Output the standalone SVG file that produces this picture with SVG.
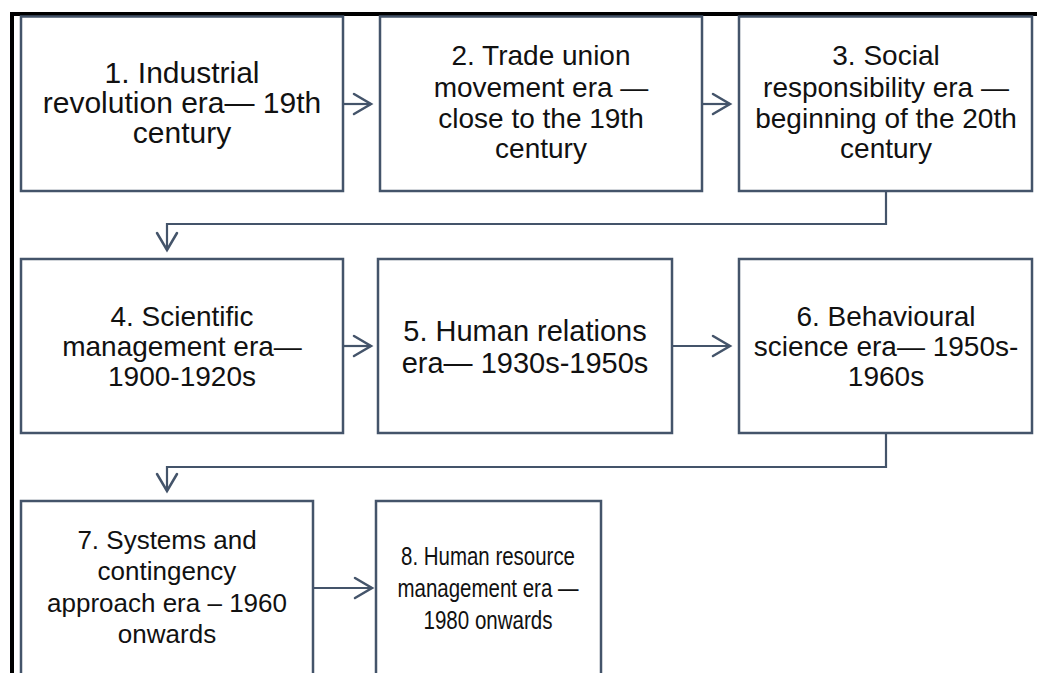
<svg xmlns="http://www.w3.org/2000/svg" width="1037" height="673" viewBox="0 0 1037 673">
<style>
.box{fill:#fff;stroke:#44546A;stroke-width:2.5}
.ln{fill:none;stroke:#44546A;stroke-width:2.2}
.hd{fill:none;stroke:#44546A;stroke-width:2.5;stroke-linecap:round;stroke-linejoin:miter}
text{font-family:"Liberation Sans",Arial,sans-serif;font-size:28px;fill:#111;text-anchor:middle}
#n1 text{font-size:30px}
#n5 text{font-size:29px}
#n7 text{font-size:26px}
#n8 text{font-size:26px}
</style>
<rect width="1037" height="673" fill="#fff"/>
<g id="frame">
<rect x="10" y="12" width="1027" height="4" fill="#000"/>
<rect x="10" y="12" width="4" height="661" fill="#000"/>
</g>
<g id="n1"><rect class="box" x="21" y="16.5" width="322" height="174.5"/>
<text x="182" y="83">1. Industrial</text><text x="182" y="113">revolution era— 19th</text><text x="182" y="143">century</text></g>
<g id="n2"><rect class="box" x="380" y="16.5" width="322" height="174.5"/>
<text x="541" y="65">2. Trade union</text><text x="541" y="97">movement era —</text><text x="541" y="128">close to the 19th</text><text x="541" y="158">century</text></g>
<g id="n3"><rect class="box" x="739" y="16.5" width="293" height="174.5"/>
<text x="886" y="65">3. Social</text><text x="886" y="97">responsibility era —</text><text x="886" y="128">beginning of the 20th</text><text x="886" y="158">century</text></g>
<g id="n4"><rect class="box" x="21" y="259" width="322" height="174"/>
<text x="182" y="326">4. Scientific</text><text x="182" y="356">management era—</text><text x="182" y="386">1900-1920s</text></g>
<g id="n5"><rect class="box" x="378" y="259" width="294" height="174"/>
<text x="525" y="341">5. Human relations</text><text x="525" y="373">era— 1930s-1950s</text></g>
<g id="n6"><rect class="box" x="739" y="259" width="293" height="174"/>
<text x="886" y="326">6. Behavioural</text><text x="886" y="356">science era— 1950s-</text><text x="886" y="386">1960s</text></g>
<g id="n7"><rect class="box" x="21" y="501" width="292" height="190"/>
<text x="167" y="549">7. Systems and</text><text x="167" y="580">contingency</text><text x="167" y="612">approach era – 1960</text><text x="167" y="643">onwards</text></g>
<g id="n8"><rect class="box" x="376" y="501" width="225" height="190"/>
<text x="488" y="565" textLength="174" lengthAdjust="spacingAndGlyphs">8. Human resource</text><text x="488" y="597" textLength="181" lengthAdjust="spacingAndGlyphs">management era —</text><text x="488" y="629" textLength="129" lengthAdjust="spacingAndGlyphs">1980 onwards</text></g>
<g id="connectors">
<path class="ln" d="M343 104H371"/><path class="hd" d="M354 94L371 104L354 114"/>
<path class="ln" d="M702 104H730"/><path class="hd" d="M713 94L730 104L713 114"/>
<path class="ln" d="M886 191V224H167V250"/><path class="hd" d="M157 233L167 250L177 233"/>
<path class="ln" d="M343 346H371"/><path class="hd" d="M354 336L371 346L354 356"/>
<path class="ln" d="M672 346H730"/><path class="hd" d="M713 336L730 346L713 356"/>
<path class="ln" d="M886 433V467H167V491"/><path class="hd" d="M157 474L167 491L177 474"/>
<path class="ln" d="M313 588H372"/><path class="hd" d="M355 578L372 588L355 598"/>
</g>
</svg>
